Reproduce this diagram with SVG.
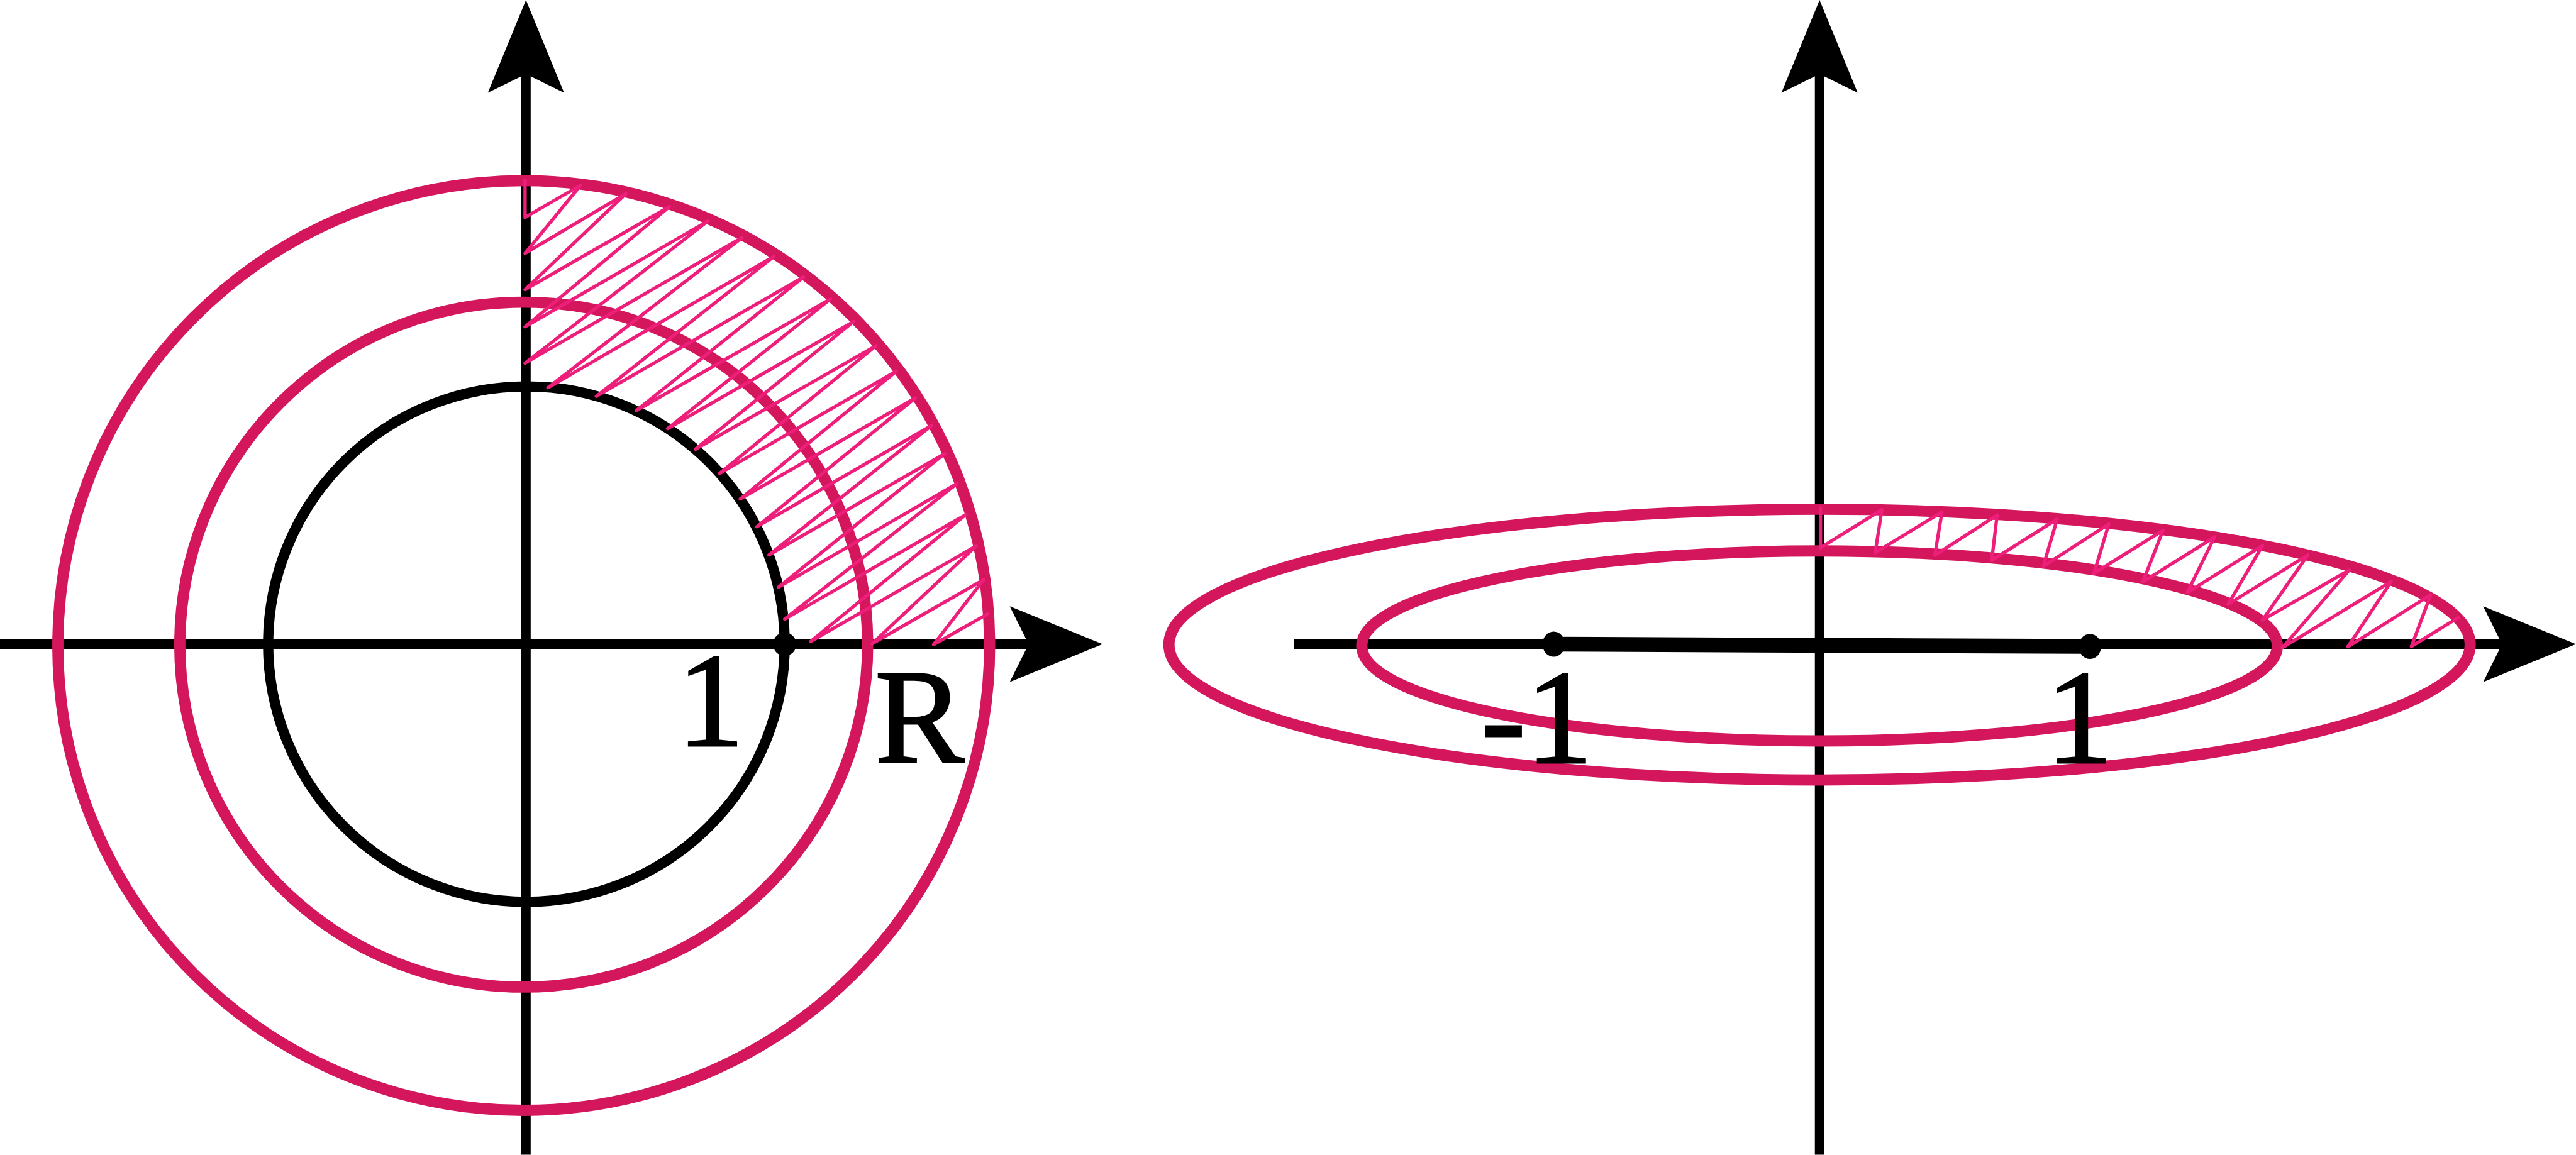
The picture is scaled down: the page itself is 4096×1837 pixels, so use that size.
<svg xmlns="http://www.w3.org/2000/svg" width="4096" height="1837" viewBox="0 0 4096 1837">
<style>
.axis{stroke:#000;stroke-width:21;fill:none}
.head{fill:#000;stroke:none}
.ring{fill:none;stroke:#D4165C;stroke-width:25}
.unit{fill:none;stroke:#000;stroke-width:23}
.hatch{fill:none;stroke:#EE1E7B;stroke-width:7.5;stroke-linejoin:round;stroke-linecap:round}
.dot{fill:#000}
.lbl{font-family:"Liberation Serif","Times New Roman",serif;font-size:300px;fill:#000;stroke:#000;stroke-width:4}
</style>
<rect width="4096" height="1837" fill="#fff"/>
<g transform="scale(0.712968)">
  <g id="connectors">
    <g id="left-axes">
      <line class="axis" x1="0" y1="1437" x2="2300" y2="1437"/>
      <polygon class="head" points="2459,1437 2252,1352.5 2294,1437 2252,1521.5"/>
      <line class="axis" x1="1173" y1="2576" x2="1173" y2="160"/>
      <polygon class="head" points="1173,0 1088,207 1173,165 1258,207"/>
    </g>
    <g id="right-axes">
      <line class="axis" x1="2886" y1="1437" x2="5585" y2="1437"/>
      <polygon class="head" points="5745,1437 5538,1352.5 5580,1437 5538,1521.5"/>
      <line class="axis" x1="4058" y1="2576" x2="4058" y2="160"/>
      <polygon class="head" points="4058,0 3973,207 4058,165 4143,207"/>
    </g>
  </g>
  <g id="left-figure">
    <ellipse id="circle-outer" class="ring" cx="1168" cy="1440" rx="1039" ry="1037"/>
    <ellipse id="circle-R" class="ring" cx="1168" cy="1438" rx="767" ry="764"/>
    <ellipse id="circle-unit" class="unit" cx="1174" cy="1437" rx="576" ry="575"/>
    <polyline id="hatch-left" class="hatch" points="1171,402 1171,485 1295,413 1171,565 1396,432 1171,646 1493,461 1171,729 1579,493 1171,810 1655,530 1222,865 1726,572 1330,884 1792,618 1419,916 1852,667 1489,956 1904,717 1551,1002 1954,771 1605,1056 1999,828 1651,1113 2041,888 1688,1175 2078,949 1715,1238 2107,1012 1736,1310 2134,1079 1750,1381 2154,1148 1808,1431 2177,1218 1945,1436 2194,1293 2082,1438 2202,1370"/>
    <circle id="point-1" class="dot" cx="1750" cy="1437" r="26"/>
    <text id="label-1-left" class="lbl" x="1585" y="1664" text-anchor="middle">1</text>
    <text id="label-R" class="lbl" x="2051" y="1702" text-anchor="middle">R</text>
  </g>
  <g id="right-figure">
    <ellipse id="ellipse-outer" class="ring" cx="4058" cy="1438" rx="1451" ry="302"/>
    <ellipse id="ellipse-inner" class="ring" cx="4058" cy="1441" rx="1021" ry="212"/>
    <line id="segment" x1="3465" y1="1437" x2="4661" y2="1442" stroke="#000" stroke-width="33"/>
    <polyline id="hatch-right" class="hatch" points="4060,1133 4060,1222 4197,1137 4182,1233 4331,1142 4315,1239 4454,1149 4442,1250 4588,1158 4557,1263 4703,1169 4670,1279 4824,1183 4779,1298 4939,1198 4878,1322 5046,1217 4969,1348 5147,1238 5046,1383 5239,1272 5090,1445 5333,1297 5236,1443 5421,1327 5378,1442 5482,1378"/>
    <ellipse id="point-minus1" class="dot" cx="3465" cy="1437" rx="25" ry="28"/>
    <ellipse id="point-plus1" class="dot" cx="4661" cy="1442" rx="25" ry="28"/>
    <text id="label-minus1" class="lbl" x="3303" y="1702">-1</text>
    <text id="label-1-right" class="lbl" x="4638" y="1702" text-anchor="middle">1</text>
  </g>
</g>
</svg>
